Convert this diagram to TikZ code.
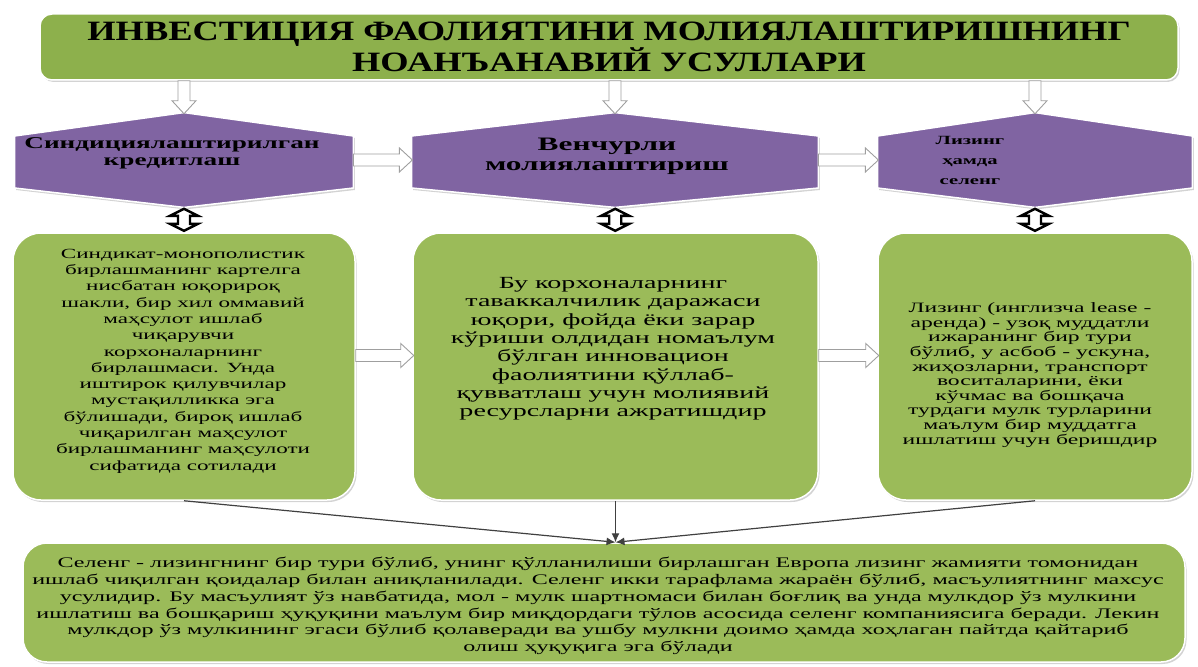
\documentclass[tikz,border=0pt]{standalone}
\usepackage{fontspec}
\setmainfont[FakeStretch=1.65]{Liberation Serif}
\newfontfamily\titlefont[FakeStretch=1.3]{Liberation Serif}
\usetikzlibrary{calc,shadows,arrows.meta}
\definecolor{olive}{HTML}{9BBB59}
\definecolor{olivedk}{HTML}{8DB04C}
\definecolor{hexpurple}{HTML}{8064A2}
\begin{document}
\begin{tikzpicture}[x=1pt,y=-1pt,thick,
    shade/.style={drop shadow={opacity=.35,shadow xshift=1.5pt,shadow yshift=-2pt}},
    gbox/.style={draw=white,line width=1.5pt,fill=olive,rounded corners=28pt,shade},
    hexfill/.style={draw=white,line width=1.5pt,fill=hexpurple,shade},
    txt/.style={align=center,text=black},
    conn/.style={draw=black!75,line width=1.2pt,-{Latex[length=9pt,width=8pt]}},
    blk/.pic={\filldraw[draw=gray!75,line width=.9pt,fill=white]
      (0,-6) -- (#1-13,-6) -- (#1-13,-12) -- (#1,0) -- (#1-13,12)
      -- (#1-13,6) -- (0,6) -- cycle;},
    dblk/.pic={\filldraw[draw=black,line width=2.4pt,fill=white]
      (-11,0) -- (-4,-14) -- (-4,-6) -- (4,-6) -- (4,-14) -- (11,0)
      -- (4,14) -- (4,6) -- (-4,6) -- (-4,14) -- cycle;}
  ]
    \useasboundingbox (0,0) rectangle (1198,666);
    \node[gbox,fill=olivedk,rounded corners=12pt,minimum width=1138,
      minimum height=66,txt,font=\titlefont\fontsize{28}{27}\selectfont\bfseries]
      (title) at (609,47) {ИНВЕСТИЦИЯ ФАОЛИЯТИНИ МОЛИЯЛАШТИРИШНИНГ\\
      НОАНЪАНАВИЙ УСУЛЛАРИ};
    \node[minimum width=338,minimum height=94] (h1) at (184,160) {};
    \node[minimum width=406,minimum height=94] (h2) at (615,160) {};
    \node[minimum width=314,minimum height=94] (h3) at (1035,160) {};
    \foreach \n in {h1,h2,h3}
      \filldraw[hexfill] ($(\n.west)+(0,-24)$) -- (\n.north)
        -- ($(\n.east)+(0,-24)$) -- ($(\n.east)+(0,28)$) -- (\n.south)
        -- ($(\n.west)+(0,28)$) -- cycle;
    \node[txt,font=\fontsize{16.5}{17}\selectfont\bfseries] (h1t) at (172,153)
      {Синдициялаштирилган\\кредитлаш};
    \node[txt,font=\fontsize{19}{20}\selectfont\bfseries] (h2t) at (607,156)
      {Венчурли\\молиялаштириш};
    \node[txt,font=\fontsize{12.5}{20}\selectfont\bfseries] (h3t) at (970,160)
      {Лизинг\\ҳамда\\селенг};
    \node[gbox,minimum width=342,minimum height=267] (b1) at (184,366.5) {};
    \node[gbox,minimum width=405,minimum height=267] (b2) at (615.5,366.5) {};
    \node[gbox,minimum width=314,minimum height=267] (b3) at (1035,366.5) {};
    \node[gbox,rounded corners=24pt,minimum width=1162,minimum height=119]
      (bb) at (604,602.5) {};
    \node[txt,font=\fontsize{14}{16.3}\selectfont] (b1t) at (183,361)
      {Синдикат-монополистик\\бирлашманинг картелга\\нисбатан юқорироқ\\
      шакли, бир хил оммавий\\маҳсулот ишлаб\\чиқарувчи\\корхоналарнинг\\
      бирлашмаси. Унда\\иштирок қилувчилар\\мустақилликка эга\\
      бўлишади, бироқ ишлаб\\чиқарилган маҳсулот\\бирлашманинг маҳсулоти\\
      сифатида сотилади};
    \node[txt,font=\fontsize{17}{18.3}\selectfont] (b2t) at (613,349)
      {Бу корхоналарнинг\\таваккалчилик даражаси\\юқори, фойда ёки зарар\\
      кўриши олдидан номаълум\\бўлган инновацион\\фаолиятини қўллаб-\\
      қувватлаш учун молиявий\\ресурсларни ажратишдир};
    \node[txt,font=\fontsize{14.3}{14.6}\selectfont] (b3t) at (1030,375)
      {Лизинг (инглизча lease -\\аренда) - узоқ муддатли\\ижаранинг бир тури\\
      бўлиб, у асбоб - ускуна,\\жиҳозларни, транспорт\\воситаларини, ёки\\
      кўчмас ва бошқача\\турдаги мулк турларини\\маълум бир муддатга\\
      ишлатиш учун беришдир};
    \node[txt,font=\fontsize{14.6}{16.7}\selectfont] (bbt) at (598,606)
      {Селенг - лизингнинг бир тури бўлиб, унинг қўлланилиши бирлашган Европа лизинг жамияти томонидан\\
      ишлаб чиқилган қоидалар билан аниқланилади. Селенг икки тарафлама жараён бўлиб, масъулиятнинг махсус\\
      усулидир. Бу масъулият ўз навбатида, мол - мулк шартномаси билан боғлиқ ва унда мулкдор ўз мулкини\\
      ишлатиш ва бошқариш ҳуқуқини маълум бир миқдордаги тўлов асосида селенг компаниясига беради. Лекин\\
      мулкдор ўз мулкининг эгаси бўлиб қолаверади ва ушбу мулкни доимо ҳамда хоҳлаган пайтда қайтариб\\
      олиш ҳуқуқига эга бўлади};
    \foreach \n in {h1,h2,h3}
      \pic[rotate=-90] at (title.south -| \n.north) {blk=33};
    \foreach \a/\l in {h1/59,h2/60}
      \pic at (\a.east) {blk=\l};
    \foreach \a/\l in {b1/58,b2/60}
      \pic at ($(\a.east)+(0,-11)$) {blk=\l};
    \foreach \n/\m in {h1/b1,h2/b2,h3/b3}
      \pic[rotate=90] at ($(\n.south)!.5!(\m.north)$) {dblk};
    \coordinate (m) at (b2.south |- bb.north);
    \foreach \n in {b1,b2,b3}
      \draw[conn] (\n.south) -- (m);
  \end{tikzpicture}
\end{document}
